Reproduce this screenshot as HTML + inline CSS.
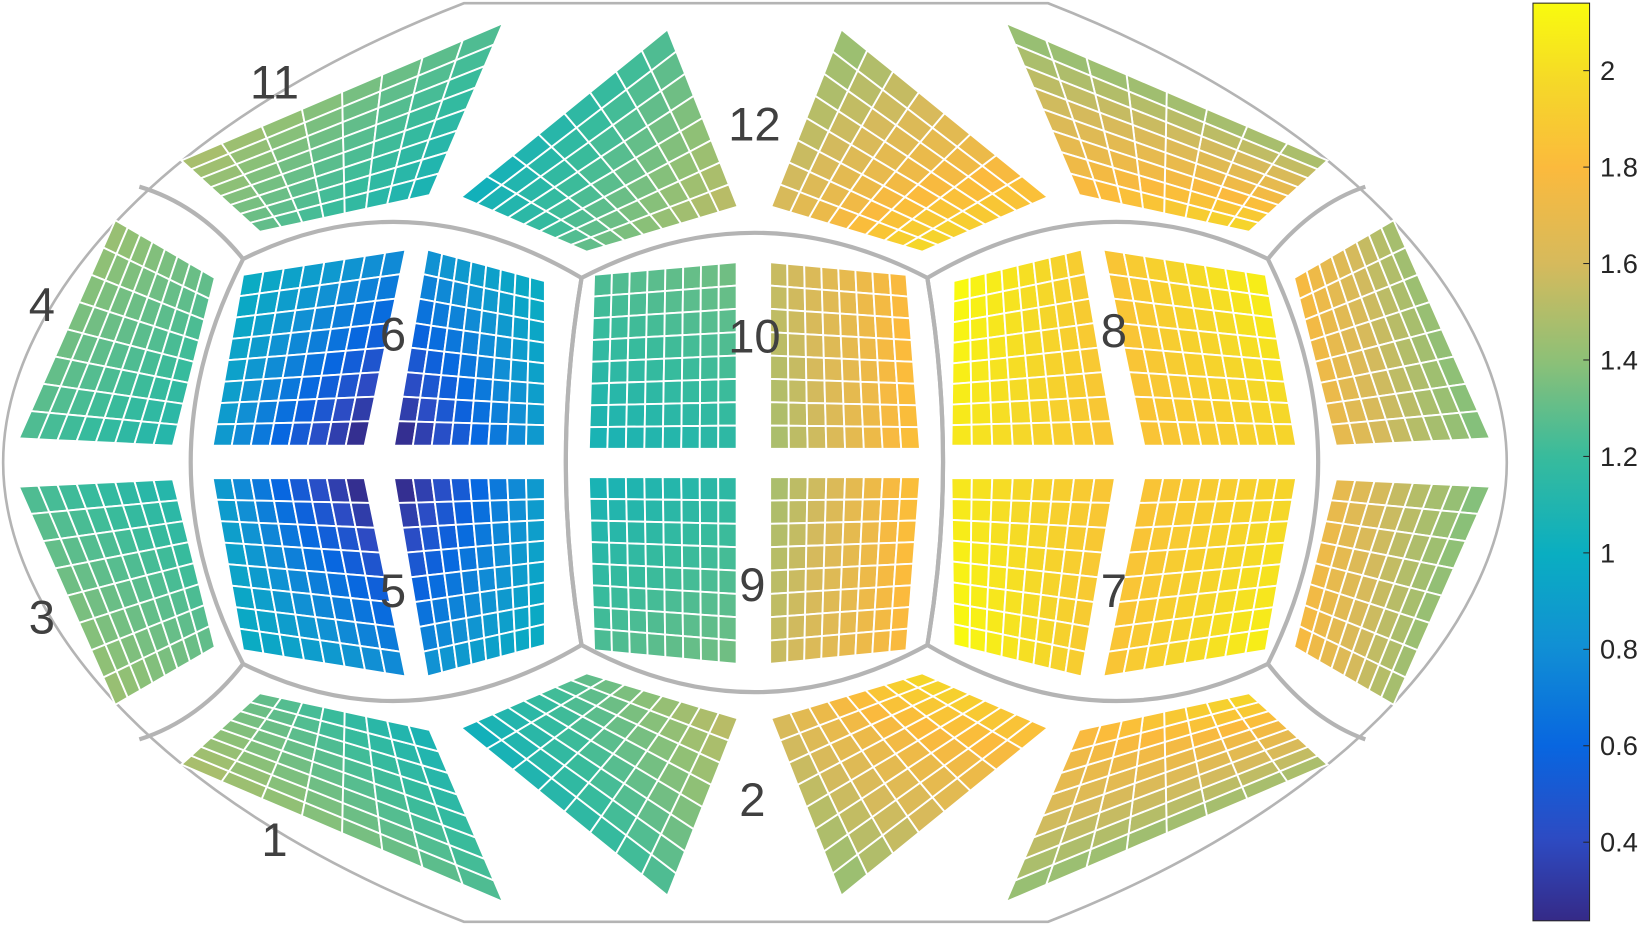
<!DOCTYPE html>
<html><head><meta charset="utf-8"><style>
html,body{margin:0;padding:0;background:#fff;}
svg{display:block;}
text{font-family:"Liberation Sans",Arial,sans-serif;}
</style></head><body>
<svg id="chart" width="1643" height="925" viewBox="0 0 1568 882" preserveAspectRatio="none" xmlns="http://www.w3.org/2000/svg">
<defs>
<linearGradient id="parula" x1="0" y1="1" x2="0" y2="0">
<stop offset="0" stop-color="#352a87"/><stop offset="0.09" stop-color="#2d4bc3"/><stop offset="0.19" stop-color="#0866e0"/><stop offset="0.30" stop-color="#1190d4"/><stop offset="0.40" stop-color="#0aaec1"/><stop offset="0.506" stop-color="#38bb9c"/><stop offset="0.61" stop-color="#8dc077"/><stop offset="0.716" stop-color="#d6ba5c"/><stop offset="0.82" stop-color="#fbba3d"/><stop offset="0.91" stop-color="#f5d729"/><stop offset="1" stop-color="#f9fb0e"/>
</linearGradient>
</defs>
<path d="M443,3 L1000,3 C1300,120 1438,300 1438,441 C1438,582 1300,762 1000,879 L443,879 C140,762 3,582 3,441 C3,300 140,120 443,3 Z" fill="none" stroke="#b4b4b4" stroke-width="2.5"/>
<g id="cells"></g>
<g fill="none" stroke="#b4b4b4" stroke-width="4">
<path d="M232,247 Q390,168 555,265 Q525,441 555,615 Q390,712 232,633 Q132,441 232,247 Z"/>
<path d="M555,265 Q720,179 885,265 Q915,441 885,615 Q720,705 555,615 Q525,441 555,265 Z"/>
<path d="M885,265 Q1050,168 1210,247 Q1306,441 1210,633 Q1050,712 885,615 Q915,441 885,265 Z"/>
<path d="M232,247 Q190,195 133,178"/>
<path d="M232,633 Q190,687 133,705"/>
<path d="M1210,247 Q1252,195 1303,178"/>
<path d="M1210,633 Q1252,687 1303,705"/>
</g>
<g font-size="45" fill="#404040" text-anchor="middle">
<text x="262" y="94">11</text>
<text x="720" y="134">12</text>
<text x="40" y="306">4</text>
<text x="40" y="604">3</text>
<text x="375" y="334">6</text>
<text x="375" y="579">5</text>
<text x="720" y="336">10</text>
<text x="718" y="573">9</text>
<text x="1063" y="331">8</text>
<text x="1063" y="579">7</text>
<text x="718" y="778">2</text>
<text x="262" y="816">1</text>
</g>
<g id="colorbar">
<rect x="1463" y="3" width="54" height="875" fill="url(#parula)" stroke="#262626" stroke-width="1"/>
</g>
</svg>
<script>
// Color scale limits and colorbar ticks
const cMin = 0.237, cMax = 2.14;
const tickValues = [0.4, 0.6, 0.8, 1, 1.2, 1.4, 1.6, 1.8, 2];
const tickLabels = ["0.4", "0.6", "0.8", "1", "1.2", "1.4", "1.6", "1.8", "2"];
// Block names
const blockNames = ["6L","6R","5L","5R","10L","10R","9L","9R","8L","8R","7L","7R","4","3","4m","3m","11","12","12m","11m","1","2","2m","1m"];
// Block corner values [TL, TR, BR, BL]
const blockValues = [
 [1.0,0.8,0.18,0.9],[0.85,1.0,0.9,0.18],[0.9,0.18,0.8,1.0],[0.18,0.9,1.0,0.85],
 [1.25,1.35,1.15,1.05],[1.55,1.8,1.85,1.45],[1.05,1.15,1.35,1.25],[1.45,1.85,1.8,1.55],
 [2.15,1.9,1.85,2.05],[1.85,2.1,1.95,1.85],[2.05,1.85,1.9,2.15],[1.85,1.95,2.1,1.85],
 [1.45,1.3,1.1,1.25],[1.25,1.1,1.3,1.45],[1.8,1.45,1.35,1.7],[1.7,1.35,1.45,1.8],
 [1.5,1.25,1.05,1.3],[1.0,1.25,1.55,1.3],[1.85,1.4,1.6,2.0],[1.45,1.4,1.8,2.0],
 [1.5,1.25,1.05,1.3],[1.0,1.25,1.55,1.3],[1.85,1.4,1.6,2.0],[1.45,1.4,1.8,2.0]
];
// Geometry (layout, not data)
const geom = [
 [[232,262],[387,238],[348,425],[203,425]],[[408,238],[520,268],[520,425],[376,425]],
 [[203,456],[348,456],[387,645],[232,620]],[[376,456],[520,456],[520,615],[408,645]],
 [[567,262],[703,250],[703,428],[562,428]],[[735,250],[865,262],[878,428],[735,428]],
 [[562,455],[703,455],[703,633],[567,620]],[[735,455],[878,455],[865,620],[735,633]],
 [[910,268],[1032,238],[1064,425],[908,425]],[[1053,238],[1208,262],[1237,425],[1092,425]],
 [[908,456],[1064,456],[1032,645],[910,615]],[[1092,456],[1237,456],[1208,620],[1053,645]],
 [[110,210],[205,265],[165,425],[18,418]],[[18,464],[165,457],[205,617],[110,672]],
 [[1235,265],[1330,210],[1422,418],[1275,425]],[[1275,457],[1422,464],[1330,672],[1235,617]],
 [[173,153],[480,22],[410,186],[248,221]],[[440,188],[637,28],[704,197],[560,240]],
 [[1000,188],[803,28],[736,197],[880,240]],[[1267,153],[960,22],[1030,186],[1192,221]],
 [[173,729],[480,860],[410,696],[248,661]],[[440,694],[637,854],[704,685],[560,642]],
 [[1000,694],[803,854],[736,685],[880,642]],[[1267,729],[960,860],[1030,696],[1192,661]]
];
const N = 8;
const stopT = [0, 0.09, 0.19, 0.30, 0.40, 0.506, 0.61, 0.716, 0.82, 0.91, 1];
const stopC = [[53,42,135],[45,75,195],[8,102,224],[17,144,212],[10,174,193],[56,187,156],[141,192,119],[214,186,92],[251,186,61],[245,215,41],[249,251,14]];
function colorOf(v){
  const t = Math.max(0, Math.min(1, (v - cMin) / (cMax - cMin)));
  let i = 0; while (i < stopT.length - 2 && t > stopT[i+1]) i++;
  const f = (t - stopT[i]) / (stopT[i+1] - stopT[i]);
  const c = stopC[i].map((a, k) => Math.round(a + (stopC[i+1][k] - a) * f));
  return 'rgb(' + c.join(',') + ')';
}
function bil(q, u, v){
  const x = (1-u)*(1-v)*q[0][0] + u*(1-v)*q[1][0] + u*v*q[2][0] + (1-u)*v*q[3][0];
  const y = (1-u)*(1-v)*q[0][1] + u*(1-v)*q[1][1] + u*v*q[2][1] + (1-u)*v*q[3][1];
  return [x, y];
}
function bilVal(a, u, v){ return (1-u)*(1-v)*a[0] + u*(1-v)*a[1] + u*v*a[2] + (1-u)*v*a[3]; }
const NS = 'http://www.w3.org/2000/svg';
const cellsG = document.getElementById('cells');
blockNames.forEach((name, b) => {
  const g = document.createElementNS(NS, 'g');
  
  
  const q = geom[b];
  for (let i = 0; i < N; i++) for (let j = 0; j < N; j++) {
    const pts = [bil(q, i/N, j/N), bil(q, (i+1)/N, j/N), bil(q, (i+1)/N, (j+1)/N), bil(q, i/N, (j+1)/N)];
    const p = document.createElementNS(NS, 'polygon');
    p.setAttribute('points', pts.map(s => s[0].toFixed(1) + ',' + s[1].toFixed(1)).join(' '));
    p.setAttribute('fill', colorOf(bilVal(blockValues[b], (i+0.5)/N, (j+0.5)/N)));
    p.setAttribute('stroke', '#fff');
    p.setAttribute('stroke-width', '1.8');
    
    
    g.appendChild(p);
  }
  cellsG.appendChild(g);
});
const cb = document.getElementById('colorbar');
const yTop = 3, yBot = 878;
function yScale(v){ return yBot - (v - cMin) / (cMax - cMin) * (yBot - yTop); }
tickValues.forEach((v, k) => {
  const y = yScale(v);
  const t = document.createElementNS(NS, 'line');
  t.setAttribute('x1', 1511); t.setAttribute('x2', 1517); t.setAttribute('y1', y); t.setAttribute('y2', y);
  t.setAttribute('stroke', '#262626'); t.setAttribute('stroke-width', '1');
  
  
  cb.appendChild(t);
  const tx = document.createElementNS(NS, 'text');
  tx.setAttribute('x', 1527); tx.setAttribute('y', y + 9);
  tx.setAttribute('font-size', '26'); tx.setAttribute('fill', '#262626');
  tx.textContent = tickLabels[k];
  
  
  cb.appendChild(tx);
});
</script>
</body></html>
